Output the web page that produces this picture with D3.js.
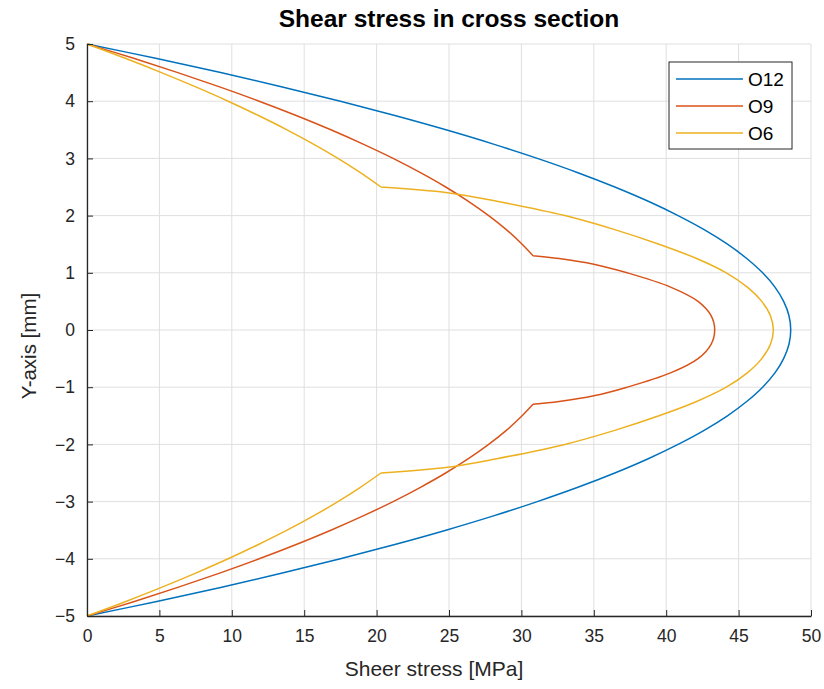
<!DOCTYPE html>
<html>
<head>
<meta charset="utf-8">
<script src="https://cdn.jsdelivr.net/npm/d3@7"></script>
<style>
  body { margin: 0; background: #fff; }
  text { font-family: "Liberation Sans", Arial, sans-serif; }
</style>
</head>
<body>
<div id="chart"></div>
<script>
// series names and colours (MATLAB default order)
const seriesNames = ["O12", "O9", "O6"];
const seriesColors = ["#0072BD", "#D95319", "#EDB120"];

// O12, top (y=5) to bottom (y=-5)
const o12Y = [5, 4.75, 4.5, 4.25, 4, 3.75, 3.5, 3.25, 3, 2.75, 2.5, 2.25, 2, 1.75, 1.5, 1.25, 1, 0.75, 0.5, 0.25, 0,
  -0.25, -0.5, -0.75, -1, -1.25, -1.5, -1.75, -2, -2.25, -2.5, -2.75, -3, -3.25, -3.5, -3.75, -4, -4.25, -4.5, -4.75, -5];
const o12X = [0, 4.74, 9.23, 13.49, 17.5, 21.26, 24.79, 28.07, 31.1, 33.9, 36.45, 38.76, 40.82, 42.65, 44.23, 45.56, 46.66, 47.51, 48.11, 48.48, 48.6,
  48.48, 48.11, 47.51, 46.66, 45.56, 44.23, 42.65, 40.82, 38.76, 36.45, 33.9, 31.1, 28.07, 24.79, 21.26, 17.5, 13.49, 9.23, 4.74, 0];
const o12Kinks = [];

// O9
const o9Y = [5, 4.75, 4.5, 4.25, 4, 3.75, 3.5, 3.25, 3, 2.75, 2.5, 2.25, 2, 1.75, 1.5, 1.3, 1.25, 1.15, 1, 0.75, 0.5, 0.25, 0,
  -0.25, -0.5, -0.75, -1, -1.15, -1.25, -1.3, -1.5, -1.75, -2, -2.25, -2.5, -2.75, -3, -3.25, -3.5, -3.75, -4, -4.25, -4.5, -4.75, -5];
const o9X = [0, 3.22, 6.27, 9.16, 11.89, 14.45, 16.84, 19.07, 21.14, 23.03, 24.77, 26.34, 27.74, 28.98, 30.05, 30.8, 32.6, 35.0, 37.3, 40.3, 42.2, 43.1, 43.35,
  43.1, 42.2, 40.3, 37.3, 35.0, 32.6, 30.8, 30.05, 28.98, 27.74, 26.34, 24.77, 23.03, 21.14, 19.07, 16.84, 14.45, 11.89, 9.16, 6.27, 3.22, 0];
const o9Kinks = [1.3, -1.3];

// O6
const o6Y = [5, 4.75, 4.5, 4.25, 4, 3.75, 3.5, 3.25, 3, 2.75, 2.5, 2.4, 2.25, 2, 1.75, 1.5, 1.25, 1, 0.75, 0.5, 0.25, 0,
  -0.25, -0.5, -0.75, -1, -1.25, -1.5, -1.75, -2, -2.25, -2.4, -2.5, -2.75, -3, -3.25, -3.5, -3.75, -4, -4.25, -4.5, -4.75, -5];
const o6X = [0, 2.64, 5.14, 7.51, 9.75, 11.84, 13.81, 15.64, 17.33, 18.88, 20.3, 24.9, 28.3, 33.0, 36.5, 39.5, 42.1, 44.15, 45.6, 46.6, 47.2, 47.4,
  47.2, 46.6, 45.6, 44.15, 42.1, 39.5, 36.5, 33.0, 28.3, 24.9, 20.3, 18.88, 17.33, 15.64, 13.81, 11.84, 9.75, 7.51, 5.14, 2.64, 0];
const o6Kinks = [2.5, -2.5];

const xTicks = [0, 5, 10, 15, 20, 25, 30, 35, 40, 45, 50];
const yTicks = [-5, -4, -3, -2, -1, 0, 1, 2, 3, 4, 5];

const titleText = "Shear stress in cross section";
const xLabelText = "Sheer stress [MPa]";
const yLabelText = "Y-axis [mm]";

const W = 824, H = 689;
const margin = { top: 44, right: 13, bottom: 73, left: 87 };
const width = W - margin.left - margin.right;
const height = H - margin.top - margin.bottom;

const axisColor = "#262626";
const gridColor = "#dfdfdf";

const svg = d3.select("#chart").append("svg")
  .attr("width", W)
  .attr("height", H);

const g = svg.append("g")
  .attr("transform", `translate(${margin.left},${margin.top})`);

const x = d3.scaleLinear().domain([0, 50]).range([0, width]);
const y = d3.scaleLinear().domain([-5, 5]).range([height, 0]);

// grid
g.append("g").selectAll("line").data(xTicks).join("line")
  .attr("x1", d => x(d)).attr("x2", d => x(d))
  .attr("y1", 0).attr("y2", height)
  .attr("stroke", gridColor).attr("stroke-width", 1);
g.append("g").selectAll("line").data(yTicks).join("line")
  .attr("x1", 0).attr("x2", width)
  .attr("y1", d => y(d)).attr("y2", d => y(d))
  .attr("stroke", gridColor).attr("stroke-width", 1);

// series: each one split at its kinks, smooth in between
const series = [
  { xs: o12X, ys: o12Y, kinks: o12Kinks },
  { xs: o9X, ys: o9Y, kinks: o9Kinks },
  { xs: o6X, ys: o6Y, kinks: o6Kinks }
];

const line = d3.line()
  .x(d => x(d[0]))
  .y(d => y(d[1]))
  .curve(d3.curveCatmullRom.alpha(0.5));

series.forEach((s, i) => {
  const pts = s.xs.map((v, j) => [v, s.ys[j]]);
  const pieces = [];
  let cur = [];
  pts.forEach(p => {
    cur.push(p);
    if (s.kinks.includes(p[1])) {
      pieces.push(cur);
      cur = [p];
    }
  });
  pieces.push(cur);
  const d = pieces.map(pc => line(pc)).join("");
  g.append("path")
    .attr("fill", "none")
    .attr("stroke", seriesColors[i])
    .attr("stroke-width", 1.5)
    .attr("stroke-linejoin", "round")
    .attr("d", d);
});

// axes (ticks point inward like MATLAB)
const fmt = d => d < 0 ? "\u2212" + Math.abs(d) : String(d);

const xAxis = g.append("g")
  .attr("transform", `translate(0,${height})`)
  .call(d3.axisBottom(x).tickValues(xTicks).tickFormat(fmt).tickSizeInner(-6).tickSizeOuter(0).tickPadding(14));
const yAxis = g.append("g")
  .call(d3.axisLeft(y).tickValues(yTicks).tickFormat(fmt).tickSizeInner(-6).tickSizeOuter(0).tickPadding(12));

[xAxis, yAxis].forEach(a => {
  a.select(".domain").attr("stroke", axisColor).attr("stroke-width", 1.3);
  a.selectAll(".tick line").attr("stroke", axisColor).attr("stroke-width", 1);
  a.selectAll(".tick text")
    .attr("fill", axisColor)
    .attr("font-family", "'Liberation Sans', Arial, sans-serif")
    .attr("font-size", 17.5);
});

// title and labels
svg.append("text")
  .attr("x", margin.left + width / 2)
  .attr("y", 27)
  .attr("text-anchor", "middle")
  .attr("font-weight", "bold")
  .attr("font-size", 24.5)
  .attr("fill", "#000")
  .text(titleText);

svg.append("text")
  .attr("x", 434)
  .attr("y", 676)
  .attr("text-anchor", "middle")
  .attr("font-size", 21)
  .attr("fill", axisColor)
  .text(xLabelText);

svg.append("text")
  .attr("transform", `translate(36,${margin.top + height / 2 + 16}) rotate(-90)`)
  .attr("text-anchor", "middle")
  .attr("font-size", 20.5)
  .attr("fill", axisColor)
  .text(yLabelText);

// legend
const legend = svg.append("g").attr("transform", "translate(669,62)");
legend.append("rect")
  .attr("width", 123).attr("height", 87)
  .attr("fill", "#fff")
  .attr("stroke", axisColor)
  .attr("stroke-width", 1);

seriesNames.forEach((name, i) => {
  const ly = 17 + i * 27;
  legend.append("line")
    .attr("x1", 7).attr("x2", 74)
    .attr("y1", ly).attr("y2", ly)
    .attr("stroke", seriesColors[i])
    .attr("stroke-width", 1.5);
  legend.append("text")
    .attr("x", 79).attr("y", ly)
    .attr("dy", "0.35em")
    .attr("font-size", 19)
    .attr("fill", "#000")
    .text(name);
});
</script>
</body>
</html>
